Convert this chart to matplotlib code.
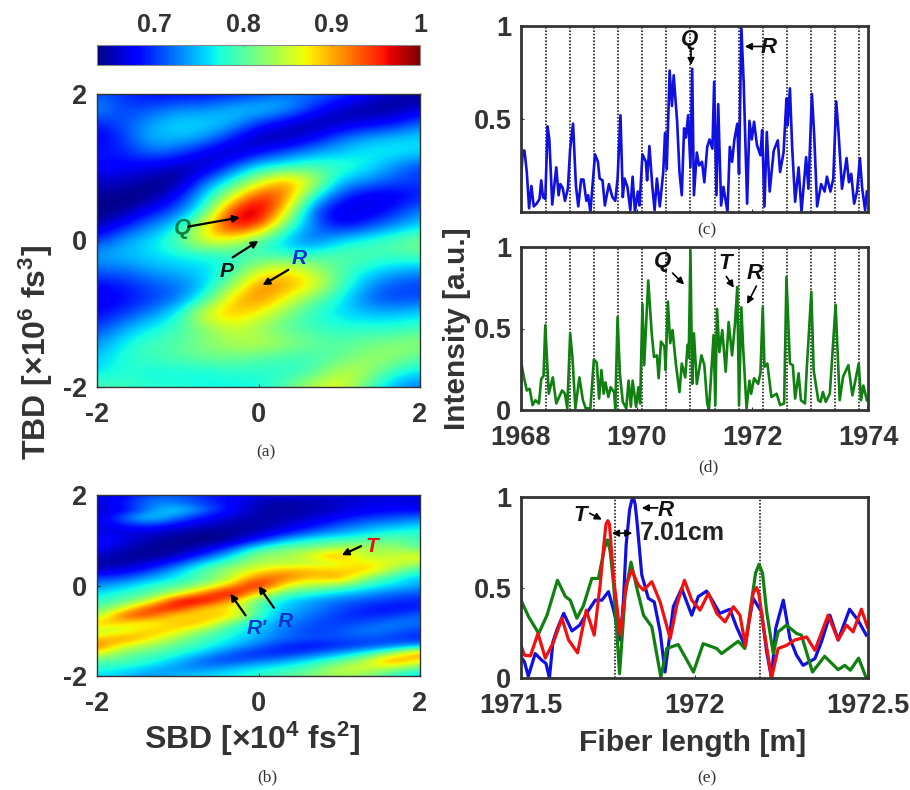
import numpy as np
import matplotlib
matplotlib.use('Agg')
import matplotlib.pyplot as plt

plt.rcParams['font.family'] = ['Liberation Sans', 'DejaVu Sans']
plt.rcParams['font.weight'] = 'bold'
plt.rcParams['axes.unicode_minus'] = False
plt.rcParams['mathtext.fontset'] = 'custom'
plt.rcParams['mathtext.rm'] = 'Liberation Sans:bold'
plt.rcParams['mathtext.bf'] = 'Liberation Sans:bold'
plt.rcParams['mathtext.it'] = 'Liberation Sans:bold:italic'

# correlation maps, rows run from top (+2) to bottom (-2)
map_a = [
    [.71, .70, .68, .68, .68, .69, .70, .72, .72, .71, .68, .655, .64],
    [.74, .70, .71, .73, .73, .75, .76, .75, .70, .655, .64, .64, .66],
    [.69, .71, .74, .76, .76, .75, .70, .665, .64, .65, .67, .68, .72],
    [.67, .70, .75, .75, .74, .69, .64, .645, .67, .72, .74, .755, .76],
    [.69, .69, .72, .71, .67, .64, .68, .71, .74, .75, .77, .77, .76],
    [.68, .675, .67, .65, .645, .71, .77, .78, .80, .79, .77, .73, .70],
    [.655, .66, .64, .635, .72, .78, .85, .92, .86, .75, .73, .71, .70],
    [.645, .635, .635, .68, .76, .85, .96, .93, .78, .70, .665, .665, .69],
    [.635, .64, .68, .72, .78, .96, 1.0, .88, .71, .66, .665, .69, .73],
    [.645, .69, .73, .76, .87, .98, .95, .80, .73, .675, .70, .73, .76],
    [.70, .74, .76, .80, .87, .86, .79, .75, .71, .76, .78, .80, .82],
    [.74, .75, .76, .77, .77, .78, .79, .78, .79, .80, .80, .79, .80],
    [.72, .72, .74, .75, .76, .78, .85, .88, .84, .80, .77, .75, .74],
    [.68, .69, .71, .72, .75, .82, .92, .91, .88, .80, .74, .71, .70],
    [.67, .68, .70, .72, .78, .89, .92, .87, .81, .77, .72, .70, .71],
    [.68, .70, .73, .77, .87, .90, .87, .82, .78, .76, .75, .75, .76],
    [.70, .74, .77, .79, .82, .85, .83, .80, .79, .78, .78, .78, .79],
    [.73, .77, .79, .80, .82, .84, .85, .83, .81, .80, .81, .82, .83],
    [.75, .78, .79, .80, .81, .81, .80, .79, .79, .80, .83, .83, .80],
    [.76, .78, .77, .77, .77, .78, .78, .78, .79, .85, .84, .78, .76],
    [.80, .79, .78, .78, .77, .77, .77, .80, .85, .87, .80, .74, .72],
]
map_b = [
    [.67, .67, .71, .72, .69, .68, .67, .67, .665, .66, .66, .665, .67],
    [.66, .69, .73, .72, .70, .68, .65, .645, .65, .66, .67, .67, .66],
    [.66, .67, .73, .77, .72, .68, .65, .645, .65, .66, .67, .68, .68],
    [.66, .72, .77, .72, .68, .66, .645, .65, .66, .68, .70, .71, .72],
    [.66, .69, .70, .675, .66, .645, .645, .66, .68, .71, .73, .74, .76],
    [.665, .665, .66, .65, .64, .64, .655, .68, .72, .74, .76, .78, .78],
    [.69, .67, .65, .64, .635, .645, .69, .75, .78, .79, .80, .81, .79],
    [.68, .655, .64, .64, .655, .70, .78, .81, .81, .84, .84, .83, .80],
    [.66, .645, .64, .65, .70, .76, .83, .83, .87, .92, .83, .85, .87],
    [.645, .645, .66, .70, .76, .80, .84, .84, .84, .86, .88, .86, .84],
    [.66, .67, .70, .75, .80, .84, .87, .90, .90, .88, .90, .83, .78],
    [.70, .71, .74, .77, .80, .84, .93, .93, .88, .92, .82, .78, .75],
    [.73, .75, .78, .80, .83, .90, .99, .86, .84, .82, .78, .76, .74],
    [.76, .78, .80, .84, .92, 1.0, .88, .80, .78, .76, .74, .72, .71],
    [.78, .80, .84, .98, .99, .90, .80, .76, .74, .72, .71, .70, .69],
    [.80, .85, .96, .97, .87, .88, .79, .75, .73, .71, .69, .68, .69],
    [.82, .95, .94, .86, .89, .90, .78, .74, .72, .70, .69, .70, .72],
    [.90, .88, .85, .90, .90, .80, .76, .73, .71, .70, .71, .73, .72],
    [.84, .85, .90, .88, .82, .78, .75, .72, .70, .71, .73, .72, .70],
    [.88, .92, .88, .83, .79, .77, .74, .72, .71, .71, .71, .70, .69],
    [.93, .86, .83, .80, .78, .75, .72, .69, .68, .69, .70, .72, .74],
    [.87, .81, .80, .78, .75, .71, .69, .69, .71, .74, .78, .83, .93],
    [.80, .80, .78, .75, .71, .70, .72, .74, .77, .80, .84, .94, .86],
    [.78, .77, .75, .73, .73, .75, .77, .78, .80, .85, .86, .83, .80],
    [.76, .75, .73, .75, .76, .77, .78, .80, .82, .84, .82, .78, .75],
]

# panel (c)
c_x = [1968.00, 1968.03, 1968.06, 1968.10, 1968.14, 1968.18, 1968.22, 1968.27, 1968.32, 1968.35, 1968.38, 1968.42,
       1968.46, 1968.49, 1968.54, 1968.61, 1968.65, 1968.68, 1968.72, 1968.76, 1968.81, 1968.85, 1968.90, 1968.95,
       1968.99, 1969.04, 1969.08, 1969.13, 1969.16, 1969.20, 1969.28, 1969.33, 1969.36, 1969.41, 1969.45, 1969.52,
       1969.58, 1969.63, 1969.67, 1969.72, 1969.76, 1969.79, 1969.84, 1969.89, 1969.93, 1969.97, 1970.02, 1970.05,
       1970.10, 1970.16, 1970.18, 1970.22, 1970.27, 1970.31, 1970.35, 1970.40, 1970.46, 1970.49, 1970.52, 1970.57,
       1970.61, 1970.64, 1970.70, 1970.74, 1970.78, 1970.82, 1970.85, 1970.89, 1970.93, 1970.96, 1970.99, 1971.04,
       1971.08, 1971.13, 1971.17, 1971.22, 1971.26, 1971.31, 1971.34, 1971.38, 1971.41, 1971.46, 1971.50, 1971.57,
       1971.61, 1971.65, 1971.69, 1971.74, 1971.77, 1971.81, 1971.85, 1971.91, 1971.95, 1971.99, 1972.03, 1972.08,
       1972.14, 1972.17, 1972.21, 1972.25, 1972.30, 1972.37, 1972.44, 1972.48, 1972.54, 1972.59, 1972.61, 1972.65,
       1972.69, 1972.74, 1972.80, 1972.85, 1972.93, 1972.97, 1973.03, 1973.07, 1973.12, 1973.19, 1973.25, 1973.29,
       1973.35, 1973.40, 1973.45, 1973.49, 1973.55, 1973.63, 1973.67, 1973.71, 1973.76, 1973.81, 1973.86, 1973.90,
       1973.95, 1973.98]
c_y = [.17, .33, .33, .215, .02, .14, .03, .045, .07, .17, .08, .07,
       .46, .39, .04, .24, .09, .15, .13, .06, .125, .34, .475, .14,
       .03, .175, .175, .06, .09, 0, .31, .27, .18, .17, .035, .15,
       .08, .06, .18, .52, .08, .18, .135, .01, .19, 0, .11, .035,
       .31, .27, .17, .355, .14, .01, .18, .03, .215, .425, .23, .76,
       .57, .735, .485, .215, .09, .45, .40, .52, .24, .77, .09, .32,
       .25, .27, .16, .35, .39, .34, .70, .09, .58, .035, .135, 0,
       .35, .27, .39, .475, .205, .995, .70, .045, .49, .39, .485, .36,
       .305, .44, .03, .43, .11, .33, .385, .215, .32, .61, .465, .665,
       .34, .055, .24, 0, .295, .125, .635, .41, .03, .15, .11, .19,
       .11, .18, .595, .43, .125, .29, .16, .205, .045, .11, .29, .125,
       .01, .11]

# panel (d)
d_x = [1968.00, 1968.05, 1968.10, 1968.15, 1968.20, 1968.25, 1968.31, 1968.35, 1968.39, 1968.42, 1968.48, 1968.55,
       1968.61, 1968.71, 1968.76, 1968.80, 1968.85, 1968.89, 1968.94, 1969.01, 1969.07, 1969.12, 1969.20, 1969.26,
       1969.31, 1969.35, 1969.39, 1969.43, 1969.46, 1969.51, 1969.55, 1969.61, 1969.63, 1969.67, 1969.71, 1969.76,
       1969.82, 1969.86, 1969.90, 1969.93, 1969.99, 1970.03, 1970.06, 1970.10, 1970.13, 1970.20, 1970.26, 1970.30,
       1970.35, 1970.38, 1970.42, 1970.48, 1970.50, 1970.54, 1970.58, 1970.62, 1970.68, 1970.74, 1970.78, 1970.84,
       1970.88, 1970.90, 1970.93, 1970.96, 1970.99, 1971.04, 1971.12, 1971.17, 1971.22, 1971.25, 1971.33, 1971.36,
       1971.39, 1971.43, 1971.48, 1971.54, 1971.59, 1971.65, 1971.70, 1971.74, 1971.77, 1971.81, 1971.84, 1971.90,
       1971.95, 1971.98, 1972.03, 1972.10, 1972.14, 1972.18, 1972.21, 1972.26, 1972.33, 1972.42, 1972.48, 1972.55,
       1972.59, 1972.65, 1972.70, 1972.74, 1972.80, 1972.84, 1972.91, 1972.94, 1973.02, 1973.06, 1973.14, 1973.18,
       1973.22, 1973.27, 1973.34, 1973.44, 1973.51, 1973.57, 1973.66, 1973.73, 1973.84, 1973.88, 1973.92, 1973.98]
d_y = [.30, .20, .12, .13, .03, .06, .04, .19, .21, .52, .10, .20,
       .04, .12, .10, .01, .47, .32, .01, .20, .06, .01, .01, .31,
       .29, .07, .245, .10, .17, .08, .14, .11, .01, .57, .22, .05,
       .01, .18, .02, .18, .02, .14, .04, .65, .275, .795, .47, .325,
       .335, .195, .42, .39, .245, .665, .41, .49, .275, .11, .285, .20,
       .40, .32, .98, .16, .47, .16, .335, .275, .04, 0, .46, .03,
       .62, .355, .49, .235, .54, .335, .53, .755, .03, .63, .39, .01,
       .18, .10, .195, .16, .225, .63, .265, .285, .08, .10, .03, .04,
       .815, .285, .275, .07, .225, .06, .04, .245, .725, .245, .06, .05,
       .11, .05, .10, .645, .06, .205, .275, .09, .285, .06, .15, .06]

# panel (e)
e_blue_x = [1971.500, 1971.510, 1971.521, 1971.541, 1971.560, 1971.572, 1971.582, 1971.592, 1971.605, 1971.623,
            1971.647, 1971.669, 1971.695, 1971.714, 1971.733, 1971.752, 1971.767, 1971.786, 1971.795, 1971.803,
            1971.813, 1971.819, 1971.824, 1971.829, 1971.835, 1971.848, 1971.867, 1971.884, 1971.901, 1971.915,
            1971.939, 1971.963, 1971.992, 1972.011, 1972.035, 1972.054, 1972.073, 1972.102, 1972.121, 1972.145,
            1972.169, 1972.193, 1972.208, 1972.222, 1972.234, 1972.256, 1972.275, 1972.294, 1972.313, 1972.347,
            1972.366, 1972.390, 1972.414, 1972.447, 1972.471, 1972.495]
e_blue_y = [.116, .089, .01, .135, .098, .08, 0, .20, .274, .357,
            .26, .292, .375, .43, .43, .477, .375, .21, .42, .735,
            .93, .98, .995, .96, .85, .57, .44, .42, .255, .033,
            .394, .495, .347, .45, .48, .42, .357, .38, .283, .18,
            .44, .366, .144, 0, .274, .43, .218, .126, .07, .107,
            .2, .347, .21, .38, .32, .237]
e_green_x = [1971.500, 1971.522, 1971.551, 1971.575, 1971.605, 1971.628, 1971.642, 1971.661, 1971.680, 1971.704,
             1971.723, 1971.741, 1971.749, 1971.757, 1971.767, 1971.784, 1971.800, 1971.817, 1971.834, 1971.853,
             1971.877, 1971.903, 1971.920, 1971.953, 1971.997, 1972.025, 1972.064, 1972.078, 1972.126, 1972.145,
             1972.176, 1972.186, 1972.196, 1972.208, 1972.227, 1972.241, 1972.265, 1972.294, 1972.308, 1972.340,
             1972.375, 1972.414, 1972.433, 1972.449, 1972.473, 1972.495]
e_green_y = [.43, .338, .246, .347, .54, .45, .43, .33, .40, .55,
             .55, .72, .763, .70, .514, .024, .458, .64, .495, .347,
             .283, .005, .163, .185, .033, .19, .163, .135, .203, .163,
             .58, .628, .58, .366, .135, .255, .292, .246, .237, .033,
             .12, .046, .07, .043, .11, 0]
e_red_x = [1971.500, 1971.510, 1971.527, 1971.549, 1971.570, 1971.594, 1971.618, 1971.637, 1971.663, 1971.688,
           1971.711, 1971.728, 1971.741, 1971.745, 1971.750, 1971.755, 1971.760, 1971.767, 1971.786, 1971.803,
           1971.819, 1971.838, 1971.853, 1971.877, 1971.901, 1971.930, 1971.949, 1971.971, 1971.992, 1972.016,
           1972.040, 1972.064, 1972.088, 1972.112, 1972.131, 1972.147, 1972.169, 1972.179, 1972.186, 1972.198,
           1972.222, 1972.241, 1972.265, 1972.289, 1972.323, 1972.347, 1972.385, 1972.414, 1972.438, 1972.457,
           1972.481, 1972.498]
e_red_y = [.18, .126, .122, .246, .11, .2, .33, .21, .139, .375,
           .237, .514, .78, .85, .869, .85, .72, .55, .237, .514,
           .597, .514, .486, .532, .42, .218, .403, .54, .43, .375,
           .468, .357, .31, .394, .347, .177, .47, .50, .46, .292,
           0, .163, .18, .21, .227, .153, .347, .21, .292, .255,
           .38, .283]

dotted_cd = [1968.43, 1968.85, 1969.26, 1969.68, 1970.09, 1970.51, 1970.93,
             1971.35, 1971.77, 1972.18, 1972.60, 1973.01, 1973.43, 1973.85]
dotted_e = [1971.771, 1972.188]

W, H = 910, 790
GREY = '#333333'
BLUE_LINE = '#1010e0'
GREEN_LINE = '#108010'
RED_LINE = '#f01010'


def box(left, top, right, bottom):
    # axes from pixel edges of the picture
    return fig.add_axes([left / W, 1 - bottom / H, (right - left) / W, (bottom - top) / H])


def arrow(ax, start, end, style='-|>', lw=1.6):
    ax.annotate('', xy=end, xytext=start,
                arrowprops=dict(arrowstyle=style, color='black', lw=lw, shrinkA=0, shrinkB=0,
                                mutation_scale=10))


def label(ax, x, y, s, color='#111111', size=16):
    ax.text(x, y, s, color=color, fontsize=size, fontstyle='italic', fontweight='bold',
            ha='center', va='center')


def style(ax, lw):
    for sp in ax.spines.values():
        sp.set_linewidth(lw)
        sp.set_color(GREY)
    ax.tick_params(labelsize=19.5, colors=GREY, direction='in', length=2, width=0.8)
    ax.tick_params(axis='x', pad=11)
    ax.tick_params(axis='y', pad=7)


def show_map(ax, data):
    data = np.array(data)
    dx = 2 / (data.shape[1] - 1)
    dy = 2 / (data.shape[0] - 1)
    im = ax.imshow(data, cmap='jet', vmin=0.635, vmax=1, aspect='auto', interpolation='bicubic',
                   extent=[-2 - dx, 2 + dx, -2 - dy, 2 + dy])
    ax.set_xlim(-2, 2)
    ax.set_ylim(-2, 2)
    ax.set_xticks([-2, 0, 2])
    ax.set_yticks([-2, 0, 2])
    style(ax, 1.0)
    return im


fig = plt.figure(figsize=(W / 100, H / 100), dpi=100, facecolor='white')

ax_a = box(97, 94, 420, 387)
im = show_map(ax_a, map_a)
label(ax_a, -0.94, 0.17, 'Q', '#108040', 16)
arrow(ax_a, (-0.87, 0.19), (-0.23, 0.315))
label(ax_a, -0.40, -0.42, 'P', '#111111', 15)
arrow(ax_a, (-0.32, -0.23), (0, -0.005))
label(ax_a, 0.51, -0.24, 'R', '#1030d0', 15)
arrow(ax_a, (0.37, -0.40), (0.05, -0.61))

cax = box(97, 45, 420, 65)
cb = fig.colorbar(im, cax=cax, orientation='horizontal')
cb.set_ticks([0.7, 0.8, 0.9, 1])
cb.set_ticklabels(['0.7', '0.8', '0.9', '1'])
cax.xaxis.set_ticks_position('top')
cax.tick_params(labelsize=18, colors=GREY, direction='in', length=1, width=0.6, pad=6)
cb.outline.set_edgecolor('#888888')
cb.outline.set_linewidth(0.8)

ax_b = box(97, 495, 420, 676)
show_map(ax_b, map_b)
label(ax_b, 1.40, 0.86, 'T', '#e81010', 15)
arrow(ax_b, (1.27, 0.87), (1.03, 0.67))
label(ax_b, -0.02, -0.94, "R'", '#1030d0', 15)
label(ax_b, 0.33, -0.79, 'R', '#1030d0', 15)
arrow(ax_b, (-0.16, -0.66), (-0.35, -0.18))
arrow(ax_b, (0.19, -0.49), (0, -0.01))

ax_c = box(521, 26, 868, 212)
for x in dotted_cd:
    ax_c.axvline(x, color='#222222', lw=1.2, ls=(0, (1, 1)))
ax_c.plot(c_x, c_y, color=BLUE_LINE, lw=1.9)
ax_c.set_xlim(1968, 1974)
ax_c.set_ylim(0, 1)
ax_c.set_xticks([1968, 1970, 1972, 1974])
ax_c.set_xticklabels([])
ax_c.set_yticks([0.5, 1])
ax_c.set_yticklabels(['0.5', '1'])
style(ax_c, 2.0)
label(ax_c, 1970.92, 0.93, 'Q')
arrow(ax_c, (1970.94, 0.88), (1970.94, 0.79), lw=1.2)
label(ax_c, 1972.28, 0.885, 'R')
arrow(ax_c, (1972.17, 0.89), (1971.87, 0.89), lw=1.2)

ax_d = box(521, 247, 868, 410)
for x in dotted_cd:
    ax_d.axvline(x, color='#222222', lw=1.2, ls=(0, (1, 1)))
ax_d.plot(d_x, d_y, color=GREEN_LINE, lw=1.9)
ax_d.set_xlim(1968, 1974)
ax_d.set_ylim(0, 1)
ax_d.set_xticks([1968, 1970, 1972, 1974])
ax_d.set_yticks([0, 0.5, 1])
ax_d.set_yticklabels(['0', '0.5', '1'])
style(ax_d, 2.0)
label(ax_d, 1970.45, 0.91, 'Q')
arrow(ax_d, (1970.62, 0.84), (1970.82, 0.77), lw=1.2)
label(ax_d, 1971.54, 0.90, 'T')
arrow(ax_d, (1971.55, 0.82), (1971.68, 0.75), lw=1.2)
label(ax_d, 1972.04, 0.84, 'R')
arrow(ax_d, (1972.07, 0.76), (1971.91, 0.65), lw=1.2)

ax_e = box(521, 497, 868, 678)
for x in dotted_e:
    ax_e.axvline(x, color='#222222', lw=1.2, ls=(0, (1, 1)))
ax_e.plot(e_blue_x, e_blue_y, color=BLUE_LINE, lw=2.3)
ax_e.plot(e_green_x, e_green_y, color=GREEN_LINE, lw=2.3)
ax_e.plot(e_red_x, e_red_y, color=RED_LINE, lw=2.3)
ax_e.set_xlim(1971.5, 1972.5)
ax_e.set_ylim(0, 1)
ax_e.set_xticks([1971.5, 1972, 1972.5])
ax_e.set_xticklabels(['1971.5', '1972', '1972.5'])
ax_e.set_yticks([0, 0.5, 1])
ax_e.set_yticklabels(['0', '0.5', '1'])
style(ax_e, 2.0)
label(ax_e, 1971.671, 0.90, 'T')
arrow(ax_e, (1971.698, 0.91), (1971.733, 0.875), lw=1.2)
label(ax_e, 1971.917, 0.925, 'R')
arrow(ax_e, (1971.894, 0.94), (1971.848, 0.94), lw=1.2)
arrow(ax_e, (1971.762, 0.80), (1971.821, 0.80), style='<|-|>', lw=1.2)
ax_e.text(1971.965, 0.80, '7.01cm', color='#222222', fontsize=18, fontweight='bold', ha='center', va='center')

# axis titles sit at fixed spots in the figure
fig.text(36 / W, 1 - 352 / H, r'TBD [$\times$10$^{6}$ fs$^{3}$]', fontsize=23, color=GREY,
         rotation=90, ha='center', va='center')
fig.text(252 / W, 1 - 739 / H, r'SBD [$\times$10$^{4}$ fs$^{2}$]', fontsize=23, color=GREY,
         ha='center', va='center')
fig.text(457 / W, 1 - 329 / H, 'Intensity [a.u.]', fontsize=21.5, color=GREY,
         rotation=90, ha='center', va='center')
fig.text(693 / W, 1 - 743 / H, 'Fiber length [m]', fontsize=21.7, color=GREY,
         ha='center', va='center')

panel_labels = ['(a)', '(b)', '(c)', '(d)', '(e)']
panel_x = [266, 267, 707, 708, 707]
panel_y = [452, 777, 230, 467, 778]
for s, px, py in zip(panel_labels, panel_x, panel_y):
    fig.text(px / W, 1 - py / H, s, family='Liberation Serif', fontweight='normal', fontsize=12.5,
             color=GREY, ha='center', va='center')

fig.savefig('out.png', dpi=100)
